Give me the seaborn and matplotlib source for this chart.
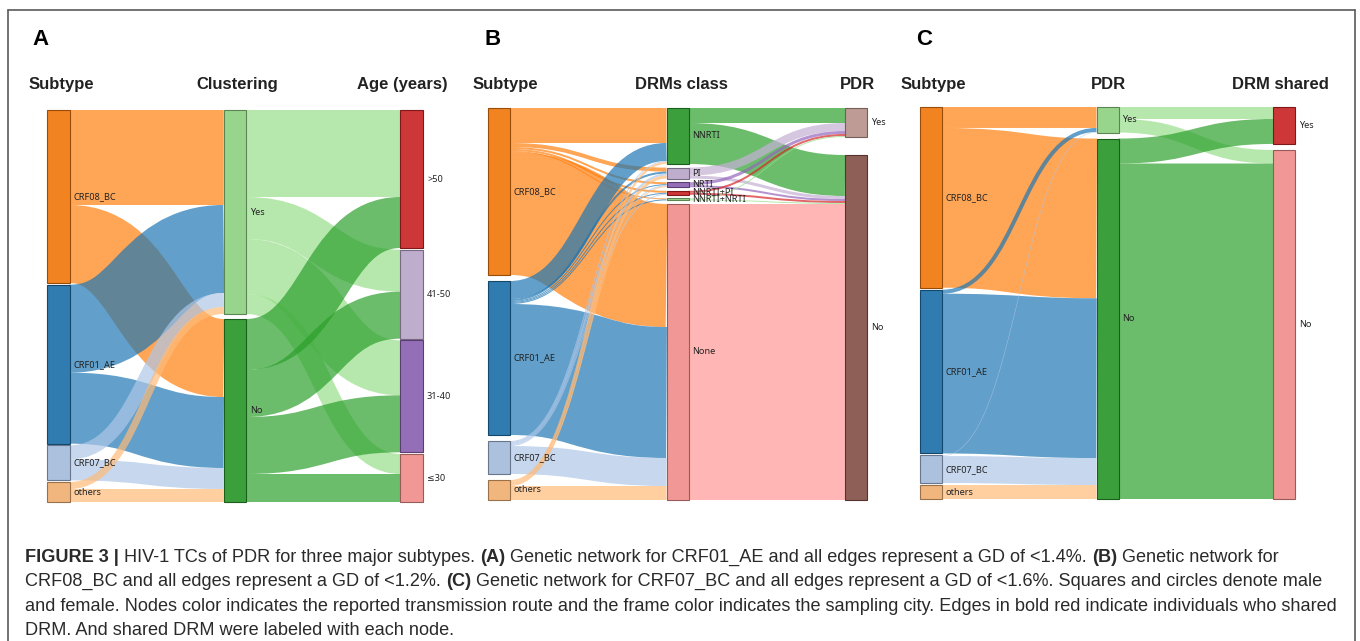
import numpy as np
import matplotlib
matplotlib.use("Agg")
import matplotlib.pyplot as plt
import seaborn as sns
from matplotlib.path import Path
from matplotlib.patches import PathPatch, Rectangle
from matplotlib.lines import Line2D

sns.set_theme(style="white")
plt.rcParams['font.family'] = ['Liberation Sans', 'DejaVu Sans']

# ---------------- data ----------------
subtypes = ["CRF08_BC", "CRF01_AE", "CRF07_BC", "others"]

# Panel A
A_clustering = ["Yes", "No"]
A_ages = [">50", "41-50", "31-40", "≤30"]
A_sub_to_yes = [95, 88, 14, 7]
A_sub_to_no = [78, 71, 21, 13]
A_yes_to_age = [87, 42, 55, 20]
A_no_to_age = [51, 47, 57, 28]

# Panel B
B_classes = ["NNRTI", "PI", "NRTI", "NNRTI+PI", "NNRTI+NRTI", "None"]
B_pdr = ["Yes", "No"]
B_crf08_to_class = [35, 4, 2, 2, 1, 123]
B_crf01_to_class = [18, 2, 1, 1, 1, 131]
B_crf07_to_class = [1, 2, 1, 1, 0, 28]
B_others_to_class = [2, 3, 1, 0, 0, 14]
B_class_to_yes = [15, 8, 3, 2, 1, 0]
B_class_to_no = [41, 3, 2, 2, 1, 296]

# Panel C
C_pdr = ["Yes", "No"]
C_shared = ["Yes", "No"]
C_sub_to_yes = [21, 4, 0.6, 0]
C_sub_to_no = [160, 160, 27, 14]
C_pdr_to_shared_yes = [12, 25]
C_pdr_to_shared_no = [13.6, 336]

# titles / headers
panel_letters = ["A", "B", "C"]
A_headers = ["Subtype", "Clustering", "Age (years)"]
B_headers = ["Subtype", "DRMs class", "PDR"]
C_headers = ["Subtype", "PDR", "DRM shared"]

caption_lines = [
    [("FIGURE 3 |", "bold"), ("HIV-1 TCs of PDR for three major subtypes.", "normal"), ("(A)", "bold"),
     ("Genetic network for CRF01_AE and all edges represent a GD of <1.4%.", "normal"), ("(B)", "bold"),
     ("Genetic network for", "normal")],
    [("CRF08_BC and all edges represent a GD of <1.2%.", "normal"), ("(C)", "bold"),
     ("Genetic network for CRF07_BC and all edges represent a GD of <1.6%. Squares and circles denote male", "normal")],
    [("and female. Nodes color indicates the reported transmission route and the frame color indicates the sampling city. Edges in bold red indicate individuals who shared", "normal")],
    [("DRM. And shared DRM were labeled with each node.", "normal")],
]

# ---------------- colours (d3 category20 == tab20) ----------------
pal = sns.color_palette("tab20")
BLUE, LBLUE, ORANGE, LORANGE, GREEN, LGREEN, RED, LRED, PURPLE, LPURPLE, BROWN, LBROWN = pal[:12]
sub_colors = [ORANGE, BLUE, LBLUE, LORANGE]

W, Hfig, DPI = 1360, 641, 100
fig = plt.figure(figsize=(W / DPI, Hfig / DPI), dpi=DPI)
fig.patch.set_facecolor("white")


def fx(x):
    return x / W


def fy(y):
    return 1 - y / Hfig


def build_links(matrix_rows, col):
    links = []
    for i, row in enumerate(matrix_rows):
        for j, v in enumerate(row):
            links.append((col, i, j, v))
    return links


def sankey(rect_px, spacing_px, node_w_px, columns, colors, links, gap_px):
    left, top, right, bottom = rect_px
    ax = fig.add_axes([fx(left), fy(bottom), fx(right - left), (bottom - top) / Hfig])
    ax.axis("off")
    ncol = len(columns)
    w = node_w_px / spacing_px
    height_px = bottom - top
    vin = [np.zeros(len(c)) for c in columns]
    vout = [np.zeros(len(c)) for c in columns]
    for (c, i, j, v) in links:
        vout[c][i] += v
        vin[c + 1][j] += v
    vals = [np.maximum(a, b) for a, b in zip(vin, vout)]
    T = max(v.sum() for v in vals)
    k = (height_px - gap_px) / T
    H = height_px / k
    ax.set_xlim(-w / 2, ncol - 1 + w / 2)
    ax.set_ylim(H, 0)
    tops = []
    for v in vals:
        n = len(v)
        g = (H - v.sum()) / (n - 1) if n > 1 else 0
        tops.append(np.concatenate([[0.0], np.cumsum(v[:-1] + g)]))
    out_off = [t.copy() for t in tops]
    in_off = [t.copy() for t in tops]
    seg = {}
    for (c, i, j, v) in sorted(links, key=lambda l: (l[0], l[1], l[2])):
        seg[(c, i, j)] = [out_off[c][i], 0.0, v]
        out_off[c][i] += v
    for (c, i, j, v) in sorted(links, key=lambda l: (l[0], l[2], l[1])):
        seg[(c, i, j)][1] = in_off[c + 1][j]
        in_off[c + 1][j] += v
    lw_scale = k * 72 / DPI
    for (c, i, j, v) in links:
        if v <= 0:
            continue
        y0, y1, v = seg[(c, i, j)]
        y0 += v / 2
        y1 += v / 2
        x0 = c + w / 2
        x1 = c + 1 - w / 2
        xm = (x0 + x1) / 2
        path = Path([(x0, y0), (xm, y0), (xm, y1), (x1, y1)],
                    [Path.MOVETO, Path.CURVE4, Path.CURVE4, Path.CURVE4])
        ax.add_patch(PathPatch(path, fill=False, edgecolor=colors[c][i], alpha=0.7,
                               lw=v * lw_scale, capstyle="butt", clip_on=False, zorder=1))
    for c, v in enumerate(vals):
        for i, val in enumerate(v):
            col = np.array(colors[c][i])
            face = 0.86 * col + 0.14 * 0.6
            ax.add_patch(Rectangle((c - w / 2, tops[c][i]), w, val, facecolor=tuple(face),
                                   edgecolor=tuple(col * 0.6), lw=0.8, clip_on=False, zorder=3))
            ax.text(c + w / 2 + 4 / spacing_px, tops[c][i] + val / 2, columns[c][i],
                    ha="left", va="center", fontsize=6.6, color="#222222",
                    family=["Noto Sans", "DejaVu Sans"], zorder=4, clip_on=False)
    return ax


# Panel A
A_links = build_links([[a, b] for a, b in zip(A_sub_to_yes, A_sub_to_no)], 0) + \
          build_links([A_yes_to_age, A_no_to_age], 1)
sankey((47, 110, 423, 502), 176.5, 22.5, [subtypes, A_clustering, A_ages],
       [sub_colors, [LGREEN, GREEN], [RED, LPURPLE, PURPLE, LRED]], A_links, 5)

# Panel B
B_links = build_links([B_crf08_to_class, B_crf01_to_class, B_crf07_to_class, B_others_to_class], 0) + \
          build_links([[a, b] for a, b in zip(B_class_to_yes, B_class_to_no)], 1)
sankey((488, 108, 867, 500), 178.5, 22, [subtypes, B_classes, B_pdr],
       [sub_colors, [GREEN, LPURPLE, PURPLE, RED, LGREEN, LRED], [LBROWN, BROWN]], B_links, 18)

# Panel C
C_links = build_links([[a, b] for a, b in zip(C_sub_to_yes, C_sub_to_no)], 0) + \
          build_links([[a, b] for a, b in zip(C_pdr_to_shared_yes, C_pdr_to_shared_no)], 1)
sankey((920, 107, 1295, 499), 176.5, 22, [subtypes, C_pdr, C_shared],
       [sub_colors, [LGREEN, GREEN], [RED, LRED]], C_links, 6)

# letters and headers
for letter, x in zip(panel_letters, [32, 484, 916]):
    fig.text(fx(x), fy(45), letter, fontsize=16, fontweight="bold", ha="left", va="baseline", color="black")
header_x = [[61.5, 237.5, 402], [505, 681.5, 857.5], [933, 1108, 1280]]
for hdrs, xs in zip([A_headers, B_headers, C_headers], header_x):
    for h, x in zip(hdrs, xs):
        fig.text(fx(x), fy(89), h, fontsize=12, fontweight="bold", ha="center", va="baseline", color="#222222")

# frame
frame_col = "#5a5a5a"
fig.add_artist(Line2D([fx(8), fx(1355)], [fy(10), fy(10)], color=frame_col, lw=1.2))
fig.add_artist(Line2D([fx(8), fx(8)], [fy(10), 0], color=frame_col, lw=1.2))
fig.add_artist(Line2D([fx(1355), fx(1355)], [fy(10), 0], color=frame_col, lw=1.2))

# caption
CAP_FS = 13.1
renderer = fig.canvas.get_renderer()
probe1 = fig.text(0, 0, "x x", fontsize=CAP_FS)
probe2 = fig.text(0, 0, "xx", fontsize=CAP_FS)
space_px = probe1.get_window_extent(renderer).width - probe2.get_window_extent(renderer).width
probe1.remove()
probe2.remove()
for li, segs in enumerate(caption_lines):
    x = 25.0
    y = 562 + 24.3 * li
    for si, (s, wt) in enumerate(segs):
        t = fig.text(fx(x), fy(y), s, fontsize=CAP_FS, fontweight=wt, ha="left", va="baseline", color="#2a2a2a")
        x += t.get_window_extent(renderer).width + space_px

fig.savefig("out.png", dpi=DPI)
